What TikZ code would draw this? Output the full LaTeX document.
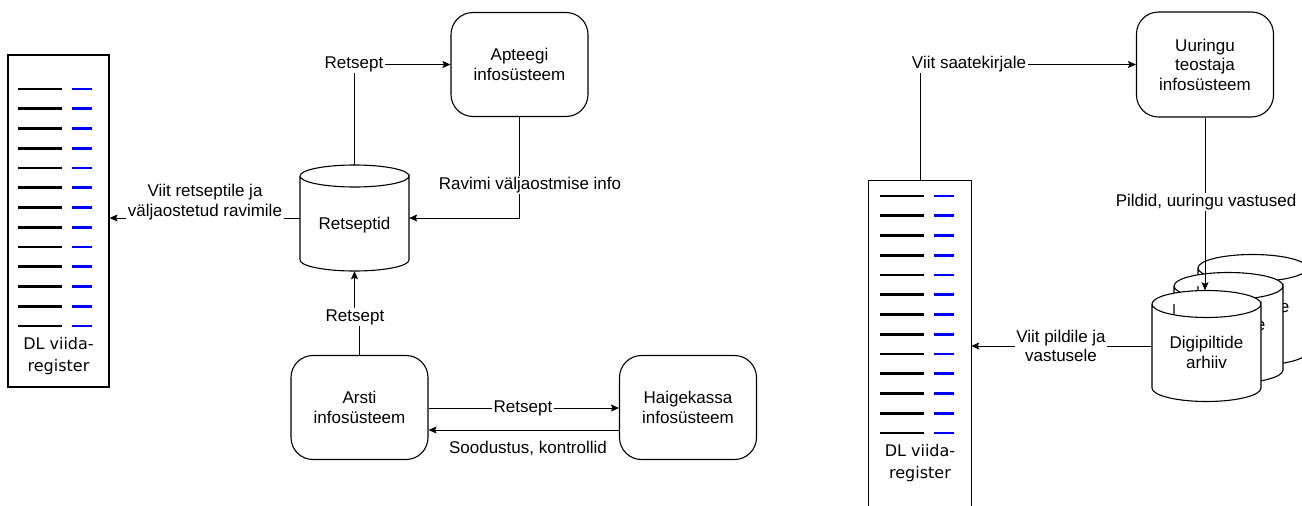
\documentclass[tikz,border=0pt]{standalone}
\usepackage{fontspec}
\setmainfont{Liberation Sans}
\newfontfamily\regfont{DejaVu Sans}
\usetikzlibrary{arrows.meta,calc}

\newcommand\lbfont{\fontsize{17}{19.5}\selectfont}

\tikzset{
  sysbox/.style={draw, line width=1.1pt, rounded corners=22pt, align=center,
    minimum width=137pt, minimum height=104pt, inner sep=0pt, font=\lbfont},
  flow/.style={line width=0.9pt, -{Stealth[length=8pt,width=7pt,inset=1.5pt]}},
  link/.style={line width=0.9pt},
  lbl/.style={fill=white, inner sep=1.5pt, align=center, font=\lbfont},
  regline/.style={line width=1.1pt},
  regkey/.style={line width=2.6pt, black},
  regval/.style={line width=2.6pt, blue},
  regtext/.style={align=center, inner sep=0pt, font=\regfont\fontsize{16}{22}\selectfont},
  drumbox/.style={minimum width=109pt, inner sep=0pt},
  drumtext/.style={align=center, inner sep=0pt, font=\lbfont},
}

% cylinder: centre x, top-ellipse centre y, bottom-ellipse centre y, ellipse y radius
\newcommand\drum[4]{%
  \filldraw[fill=white, line width=1.1pt]
    (#1-54.5,#2) -- (#1-54.5,#3)
    arc[start angle=180, delta angle=-180, x radius=54.5, y radius=#4]
    -- (#1+54.5,#2)
    arc[start angle=0, delta angle=360, x radius=54.5, y radius=#4];
}

\begin{document}
\begin{tikzpicture}[x=1pt,y=-1pt]
\useasboundingbox (0,0) rectangle (1302,506);
\coordinate (pagebot) at (0,506);

% ---------- prescription flow ----------
\node[draw, line width=1.1pt, minimum width=101pt, minimum height=332pt, inner sep=0pt] (reg1) at (58.5,221) {};
\foreach \i in {0,...,12}{
  \pgfmathsetmacro\yy{89+19.75*\i}
  \draw[regkey] (18,\yy) -- (62,\yy);
  \draw[regval] (72,\yy) -- (92,\yy);
}
\node[regtext] at (58.5,356.5) {DL viida-\\register};

\node[sysbox] (apt) at (519.5,64.5) {Apteegi\\infosüsteem};
\node[sysbox] (arsti) at (359.5,407.5) {Arsti\\infosüsteem};
\node[sysbox] (haige) at (688,407.5) {Haigekassa\\infosüsteem};

\drum{354.5}{176}{260}{11}
\node[drumbox, minimum height=106pt] (rets) at (354.5,218) {};
\node[drumtext] at (354.5,225) {Retseptid};

% Retseptid -> Apteegi
\draw[flow] (rets.north) |- (apt.west);
\node[lbl] at (354,64) {Retsept};

% Apteegi -> Retseptid
\draw[flow] (apt.south) |- (rets.east);
\node[lbl] at (530,185) {Ravimi väljaostmise info};

% Retseptid -> register
\draw[flow] (rets.west) -- (rets.west -| reg1.east);
\node[lbl] at (205,202) {Viit retseptile ja\\väljaostetud ravimile};

% Arsti -> Retseptid
\draw[flow] (arsti.north) -- ++(0,-39) coordinate (jog) -| (rets.south);
\node[lbl] at (355,317) {Retsept};

% Arsti <-> Haigekassa
\draw[flow] ($(arsti.east)+(0,0.5)$) -- ($(haige.west)+(0,0.5)$);
\node[lbl] at (523,408) {Retsept};
\draw[flow] ($(haige.west)+(0,22.5)$) -- ($(arsti.east)+(0,22.5)$);
\node[lbl, fill=none] at (528,448) {Soodustus, kontrollid};

% ---------- imaging flow ----------
\node[minimum width=102pt, minimum height=340pt, inner sep=0pt] (reg2) at (920,351) {};
\draw[regline] (reg2.north west |- pagebot) -- (reg2.north west) -- (reg2.north east) -- (reg2.north east |- pagebot);
\foreach \i in {0,...,12}{
  \pgfmathsetmacro\yy{196+19.75*\i}
  \draw[regkey] (880,\yy) -- (924,\yy);
  \draw[regval] (934,\yy) -- (954,\yy);
}
\node[regtext] at (920,463) {DL viida-\\register};

\node[sysbox, minimum height=105pt] (uur) at (1205,64.5) {Uuringu\\teostaja\\infosüsteem};

% stacked archive drums, back to front
\drum{1252.5}{268}{352}{13.5}
\node[drumtext] at (1252.5,316.5) {Digipiltide\\arhiiv};
\drum{1228.5}{286}{370}{13.5}
\node[drumtext] at (1228.5,334.5) {Digipiltide\\arhiiv};
\drum{1206.5}{304}{388}{13.5}
\node[drumbox, minimum height=111pt] (arch) at (1206.5,346) {};
\node[drumtext] at (1206.5,352.5) {Digipiltide\\arhiiv};

% register -> Uuringu
\draw[flow] (reg2.north) |- (uur.west);
\node[lbl] at (969,64) {Viit saatekirjale};

% Uuringu -> archive
\draw[flow] (uur.south) -- (uur.south |- arch.north);
\node[lbl] at (1206,202) {Pildid, uuringu vastused};

% archive -> register
\draw[flow] (arch.west) -- (arch.west -| reg2.east);
\node[lbl] at (1061,346) {Viit pildile ja\\vastusele};
\end{tikzpicture}
\end{document}
